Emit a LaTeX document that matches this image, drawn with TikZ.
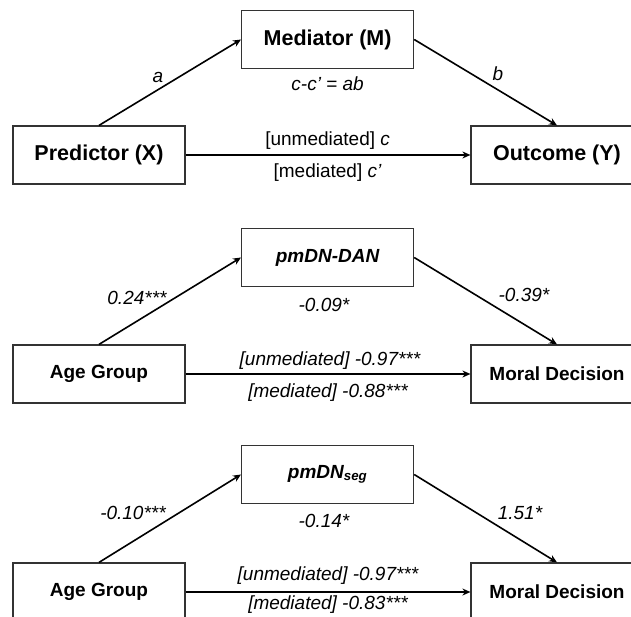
\documentclass[tikz,border=0pt]{standalone}
\usepackage{fontspec}
\setmainfont{Liberation Sans}
\usetikzlibrary{arrows.meta}

\tikzset{
	varbox/.style={shape=rectangle,draw=black!80,line width=1.2pt,minimum width=172pt,minimum height=58pt,font=\bfseries\fontsize{19}{22}\selectfont},
	bigbox/.style={varbox,font=\bfseries\fontsize{21.5}{24}\selectfont},
	coef/.style={font=\itshape\fontsize{19}{22}\selectfont},
	plain/.style={font=\fontsize{19}{22}\selectfont},
	link/.style={->,line width=1.6pt}
}

\begin{document}
\begin{tikzpicture}[x=1pt,y=-1pt,>={Stealth[length=8pt,width=7pt]}]
		\useasboundingbox (0,0) rectangle (631,617);
		% general model
		\node[bigbox] (M) at (327.6,39.5) {Mediator (M)};
		\node[bigbox] (X) at (99,155) {Predictor (X)};
		\node[bigbox] (Y) at (557,155) {Outcome (Y)};
		\draw[link] (X.north) -- (M.west);
		\draw[link] (M.east) -- (Y.north);
		\draw[link] (X.east) -- (Y.west);
		\node[coef] (a) at (158,77) {a};
		\node[coef] (b) at (498,74) {b};
		\node[coef] (ab) at (327.6,84) {c-c’ = ab};
		\node[plain] (cu) at (327.6,141) {[unmediated] \textit{c}};
		\node[plain] (cm) at (327.6,173) {[mediated] \textit{c’}};
		% pmDN-DAN
		\node[varbox] (M1) at (327.6,257.5) {\itshape pmDN-DAN};
		\node[varbox] (X1) at (99,374) {Age Group};
		\node[varbox] (Y1) at (557,374) {Moral Decision};
		\draw[link] (X1.north) -- (M1.west);
		\draw[link] (M1.east) -- (Y1.north);
		\draw[link] (X1.east) -- (Y1.west);
		\node[coef] (a1) at (137,298) {0.24***};
		\node[coef] (b1) at (524,295) {-0.39*};
		\node[coef] (ab1) at (324,305) {-0.09*};
		\node[coef] (cu1) at (330,361) {[unmediated] -0.97***};
		\node[coef] (cm1) at (328,393) {[mediated] -0.88***};
		% pmDN seg
		\node[varbox] (M2) at (327.6,474.5) {\itshape pmDN\textsubscript{seg}};
		\node[varbox] (X2) at (99,592) {Age Group};
		\node[varbox] (Y2) at (557,592) {Moral Decision};
		\draw[link] (X2.north) -- (M2.west);
		\draw[link] (M2.east) -- (Y2.north);
		\draw[link] (X2.east) -- (Y2.west);
		\node[coef] (a2) at (133,513) {-0.10***};
		\node[coef] (b2) at (520,513) {1.51*};
		\node[coef] (ab2) at (324,521) {-0.14*};
		\node[coef] (cu2) at (328,576) {[unmediated] -0.97***};
		\node[coef] (cm2) at (328,605) {[mediated] -0.83***};
	\end{tikzpicture}
\end{document}
